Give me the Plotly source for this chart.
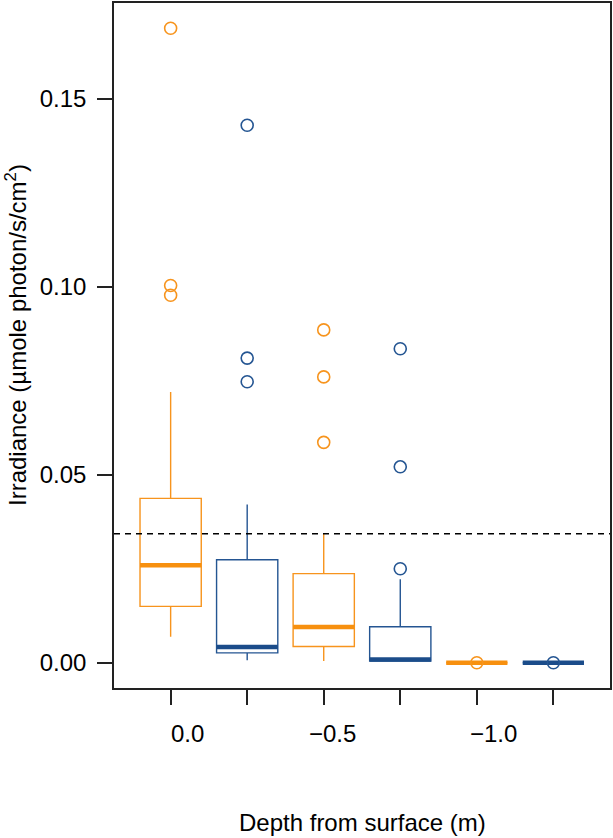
import plotly.graph_objects as go

# ---- data ----
positions = [1, 2, 3, 4, 5, 6]
series_color = ["orange", "blue", "orange", "blue", "orange", "blue"]
q1 = [0.0150, 0.00265, 0.00434, 0.00045, 0.0, 0.0]
median = [0.0259, 0.0042, 0.0095, 0.0009, 0.0, 0.0]
q3 = [0.0437, 0.0274, 0.0237, 0.0096, 0.0, 0.0]
lower_whisker = [0.0069, 0.0007, 0.0005, 0.0003, 0.0, 0.0]
upper_whisker = [0.0720, 0.0421, 0.0345, 0.0222, 0.0, 0.0]
outliers = [
    [0.1687, 0.1003, 0.0977],
    [0.1429, 0.0810, 0.0747],
    [0.0885, 0.0760, 0.0586],
    [0.0835, 0.0521, 0.0250],
    [0.0],
    [0.0],
]
threshold = 0.0343
x_tick_labels = ["0.0", "\u22120.5", "\u22121.0"]
x_tick_label_pos = [1.22, 3.12, 5.22]
y_ticks = [0.0, 0.05, 0.10, 0.15]

# ---- styles ----
COLORS = {"orange": "#F7941D", "blue": "#245592"}
MEDIAN_COLORS = {"orange": "#F7900F", "blue": "#1B4C8A"}
BOX_WIDTH = 0.8
FONT = "Liberation Sans, Arial, Helvetica, sans-serif"

fig = go.Figure()

for i, p in enumerate(positions):
    c = COLORS[series_color[i]]
    fig.add_trace(go.Box(
        x=[p], q1=[q1[i]], median=[median[i]], q3=[q3[i]],
        lowerfence=[lower_whisker[i]], upperfence=[upper_whisker[i]],
        width=BOX_WIDTH, whiskerwidth=0,
        line=dict(color=c, width=1.4),
        fillcolor="rgba(0,0,0,0)",
        boxpoints=False, showlegend=False, hoverinfo="skip",
    ))
    # thick median bar
    fig.add_trace(go.Scatter(
        x=[p - BOX_WIDTH / 2, p + BOX_WIDTH / 2], y=[median[i], median[i]],
        mode="lines", line=dict(color=MEDIAN_COLORS[series_color[i]], width=4.5),
        showlegend=False, hoverinfo="skip",
    ))
    # outliers
    fig.add_trace(go.Scatter(
        x=[p] * len(outliers[i]), y=outliers[i], mode="markers",
        marker=dict(symbol="circle-open", size=12, color=c, line=dict(width=1.6)),
        showlegend=False, hoverinfo="skip",
    ))

# dashed reference line
fig.add_shape(type="line", xref="paper", x0=0, x1=1, yref="y",
              y0=threshold, y1=threshold,
              line=dict(color="black", width=1.3, dash="6px,5px"))

# x tick labels (offset from ticks as in reference)
for lab, xp in zip(x_tick_labels, x_tick_label_pos):
    fig.add_annotation(x=xp, xref="x", y=-0.067, yref="paper", text=lab,
                       showarrow=False, xanchor="center", yanchor="middle",
                       font=dict(family=FONT, size=24, color="black"))

# axis titles
fig.add_annotation(x=0.5, xref="paper", y=-0.1965, yref="paper",
                   text="Depth from surface (m)", showarrow=False,
                   xanchor="center", yanchor="middle",
                   font=dict(family=FONT, size=24, color="black"))
fig.add_annotation(x=-0.198, xref="paper", y=0.515, yref="paper",
                   text="Irradiance (µmole photon/s/cm<sup>2</sup>)", showarrow=False,
                   textangle=-90, xanchor="center", yanchor="middle",
                   font=dict(family=FONT, size=24, color="black"))

fig.update_layout(
    width=613, height=838,
    margin=dict(l=114, r=2, t=1, b=150),
    paper_bgcolor="white", plot_bgcolor="white",
    font=dict(family=FONT, size=24, color="black"),
    xaxis=dict(range=[0.26, 6.74], tickvals=positions, showticklabels=False,
               ticks="outside", ticklen=15, tickwidth=1.5, tickcolor="#222",
               showline=True, linecolor="#222", linewidth=1.6, mirror=True,
               showgrid=False, zeroline=False),
    yaxis=dict(range=[-0.0067, 0.1754], tickvals=y_ticks, tickformat=".2f",
               ticks="outside", ticklen=15, tickwidth=1.5, tickcolor="#222",
               ticklabelstandoff=6,
               showline=True, linecolor="#222", linewidth=1.6, mirror=True,
               showgrid=False, zeroline=False,
               tickfont=dict(family=FONT, size=24, color="black")),
)

fig.write_html("out.html", config={"displayModeBar": False},
               post_script="document.body.style.margin='0';document.body.style.overflow='hidden';")
